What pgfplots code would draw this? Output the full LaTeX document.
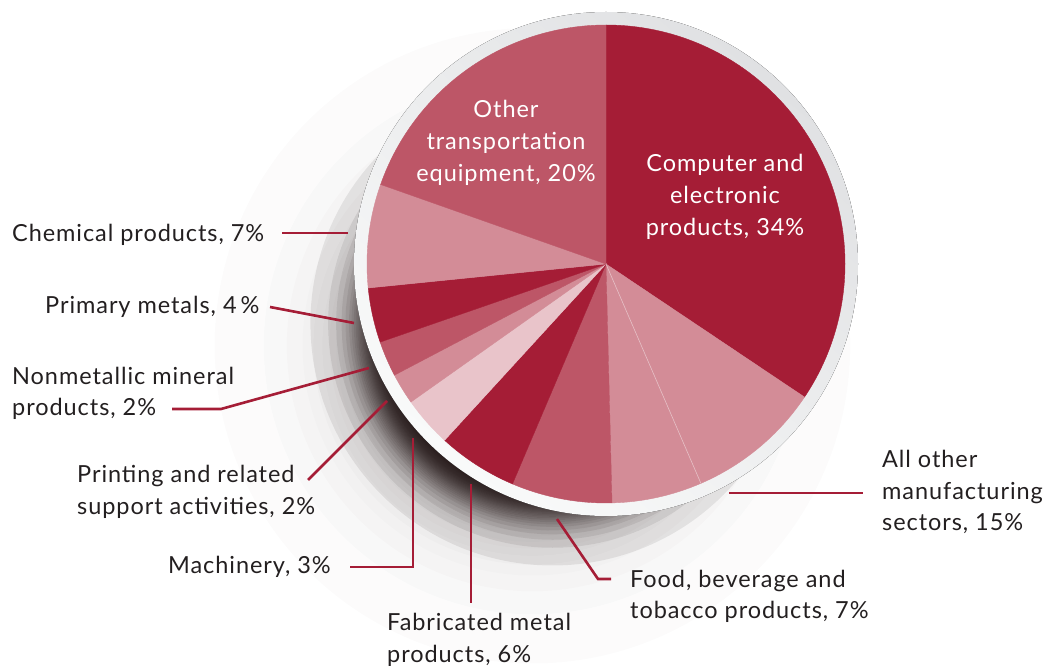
\documentclass[border=0pt]{standalone}
\usepackage{pgfplots}
\pgfplotsset{compat=1.18}
\usepackage{fontspec}
\setmainfont{Lato}[LetterSpace=4]

\definecolor{dk}{RGB}{165,29,54}
\definecolor{md}{RGB}{189,86,103}
\definecolor{pk}{RGB}{211,140,151}
\definecolor{lt}{RGB}{233,196,202}
\definecolor{ringgray}{RGB}{224,225,227}
\definecolor{ringwhite}{RGB}{249,250,250}
\definecolor{txt}{RGB}{35,31,32}
\definecolor{shadowc}{RGB}{40,28,28}

% slice: colour, cumulative start (%), share (%)
\newcommand\slice[3]{%
  \filldraw[#1, line width=0.4bp] (axis cs:606,-264) -- ++({90-3.6*(#2)}:239bp)
    arc[start angle={90-3.6*(#2)}, delta angle={-3.6*(#3)}, radius=239bp] -- cycle;}
% label line: anchor, x, y (pixels from top), text
\newcommand\lbl[4]{\node[anchor=#1, inner sep=0pt, text=txt,
  font=\fontsize{23.5bp}{28bp}\selectfont] at (axis cs:#2,-#3) {#4};}
\newcommand\inlbl[3]{\node[anchor=base, inner sep=0pt, text=white,
  font=\fontsize{23.5bp}{28bp}\selectfont] at (axis cs:#1,-#2) {#3};}

\begin{document}
\begin{tikzpicture}
% soft drop shadow to the lower left of the rim: a dark core and a long tail
\foreach \i in {1,...,25}{
  \pgfmathsetmacro\r{142-45*ln(1-(\i-0.5)/25)}
  \fill[shadowc, opacity=0.014] (532.4bp,320.3bp) circle[radius=\r bp];}
\foreach \i in {1,...,40}{
  \pgfmathsetmacro\r{172-16*ln(1-(\i-0.5)/40)}
  \fill[shadowc, opacity=0.09] (552.5bp,342.6bp) circle[radius=\r bp];}
\begin{axis}[
    scale only axis, hide axis, clip=false,
    x=1bp, y=1bp,
    xmin=0, xmax=1050, ymin=-666, ymax=0,
    at={(0,0)}, anchor=south west,
  ]
  % rim
  \fill[top color=ringgray, bottom color=ringwhite, shading angle=-40]
    (axis cs:606,-264) circle[radius=252bp];

  % slices, clockwise from the top
  \slice{dk}{0}{34.4}
  \slice{pk}{34.4}{9.1}
  \slice{pk}{43.5}{6.1}
  \slice{md}{49.6}{6.8}
  \slice{dk}{56.4}{5.4}
  \slice{lt}{61.8}{3.4}
  \slice{pk}{65.2}{2.1}
  \slice{md}{67.3}{2.4}
  \slice{dk}{69.7}{3.7}
  \slice{pk}{73.4}{7.0}
  \slice{md}{80.4}{19.6}
  \draw[white, opacity=0.45, line width=0.6bp] (axis cs:606,-264) -- ++(-66.6:239bp);

  % leader lines
  \begin{scope}[dk, line width=2.6bp]
    \draw (axis cs:282,-233) -- (axis cs:348,-233);
    \draw (axis cs:270,-307) -- (axis cs:354,-323);
    \draw (axis cs:172,-409) -- (axis cs:221,-409) -- (axis cs:369,-368);
    \draw (axis cs:308,-480) -- (axis cs:387,-401);
    \draw (axis cs:350,-567) -- (axis cs:413,-567) -- (axis cs:413,-438);
    \draw (axis cs:471,-484) -- (axis cs:471,-603);
    \draw (axis cs:557,-519) -- (axis cs:598,-579) -- (axis cs:611,-579);
    \draw (axis cs:729,-493) -- (axis cs:863,-493);
  \end{scope}

  % labels outside
  \lbl{base west}{12}{242}{Chemical products, 7\%}
  \lbl{base west}{45}{313}{Primary metals, 4\,\%}
  \lbl{base west}{12}{384}{Nonmetallic mineral}
  \lbl{base west}{12}{415}{products, 2\%}
  \lbl{base west}{77}{482}{Printing and related}
  \lbl{base west}{77}{514}{support activities, 2\%}
  \lbl{base west}{168}{573}{Machinery, 3\%}
  \lbl{base west}{387}{630}{Fabricated metal}
  \lbl{base west}{387}{662}{products, 6\%}
  \lbl{base west}{630}{587}{Food, beverage and}
  \lbl{base west}{630}{618}{tobacco products, 7\%}
  \lbl{base west}{882}{467}{All other}
  \lbl{base west}{882}{499}{manufacturing}
  \lbl{base west}{882}{530}{sectors, 15\%}

  % labels inside
  \inlbl{725}{172}{Computer and}
  \inlbl{725}{204}{electronic}
  \inlbl{725}{236}{products, 34\%}
  \inlbl{506}{118}{Other}
  \inlbl{506}{150}{transportation}
  \inlbl{506}{182}{equipment, 20\%}
\end{axis}
\pgfresetboundingbox
\useasboundingbox (0,0) rectangle (1050bp,666bp);
\end{tikzpicture}
\end{document}
